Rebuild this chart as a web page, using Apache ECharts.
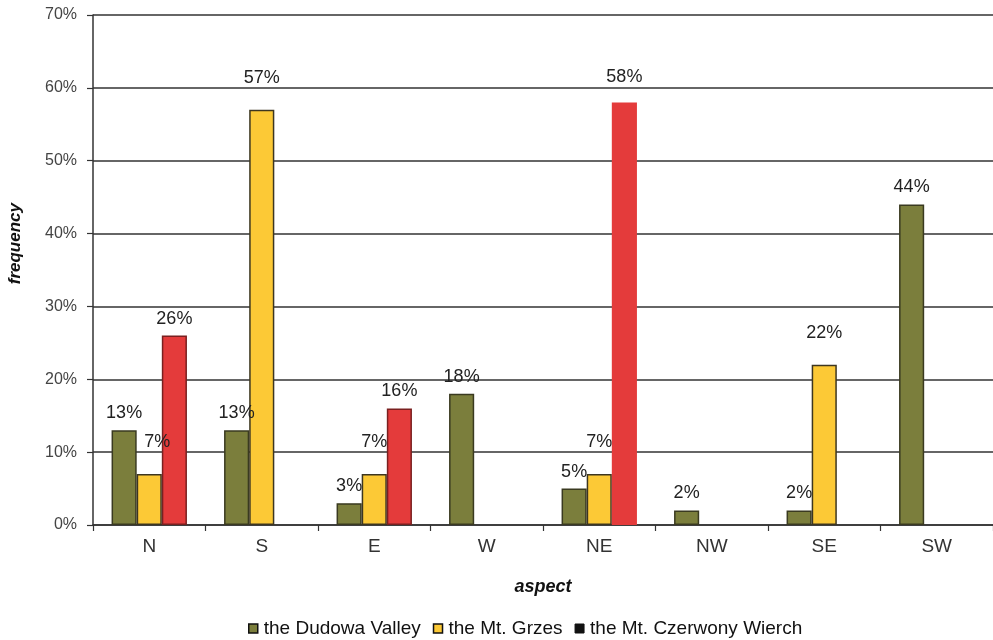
<!DOCTYPE html>
<html>
<head>
<meta charset="utf-8">
<script src="https://cdn.jsdelivr.net/npm/echarts@6/dist/echarts.min.js"></script>
<style>
  html, body { margin: 0; padding: 0; background: #fff; }
  #chart { width: 993px; height: 640px; }
</style>
</head>
<body>
<div id="chart"></div>
<script>
// Aspect categories and frequency (%) per site
const aspects = ['N', 'S', 'E', 'W', 'NE', 'NW', 'SE', 'SW'];
const dudowaValley = [13, 13, 3, 18, 5, 2, 2, 44];
const mtGrzes = [7, 57, 7, null, 7, null, 22, null];
const mtCzerwonyWierch = [26, null, 16, null, 58, null, null, null];
const seriesNames = ['the Dudowa Valley', 'the Mt. Grzes', 'the Mt. Czerwony Wierch'];
const yTicks = [0, 10, 20, 30, 40, 50, 60, 70];

const FONT = 'Liberation Sans, Arial, sans-serif';
const GREEN = '#7b7e3c', YELLOW = '#fcc936', RED = '#e43b3b';

function labelCfg(distance) {
  return {
    show: true,
    position: 'top',
    distance: distance,
    formatter: p => p.value == null ? '' : p.value + '%',
    fontFamily: FONT,
    fontSize: 18,
    color: '#222'
  };
}

// the tall NE bar of the third site is drawn without an outline
const redData = mtCzerwonyWierch.map((v, i) =>
  aspects[i] === 'NE'
    ? { value: v, itemStyle: { borderWidth: 0 }, label: { distance: 16 } }
    : v
);

// the N label of the second site sits a little to the right
const yellowData = mtGrzes.map((v, i) =>
  aspects[i] === 'N' ? { value: v, label: { offset: [8, 0] } } : v
);

const chart = echarts.init(document.getElementById('chart'), null, { renderer: 'canvas' });

chart.setOption({
  animation: false,
  backgroundColor: '#fff',
  grid: { left: 93, right: 0, top: 15, bottom: 115, containLabel: false },
  legend: {
    left: 243,
    top: 614,
    itemWidth: 9,
    itemHeight: 9,
    itemGap: 12,
    icon: 'rect',
    textStyle: { fontFamily: FONT, fontSize: 19, color: '#111', padding: [0, 0, 0, 1] },
    data: [
      { name: seriesNames[0], itemStyle: { color: GREEN, borderColor: '#111', borderWidth: 1.5 } },
      { name: seriesNames[1], itemStyle: { color: YELLOW, borderColor: '#111', borderWidth: 1.5 } },
      { name: seriesNames[2], itemStyle: { color: '#111', borderColor: '#111', borderWidth: 1 } }
    ]
  },
  xAxis: {
    type: 'category',
    data: aspects,
    name: 'aspect',
    nameLocation: 'middle',
    nameGap: 53,
    nameTextStyle: { fontFamily: FONT, fontSize: 18, fontWeight: 'bold', fontStyle: 'italic', color: '#111' },
    axisLine: { show: true, lineStyle: { color: '#333', width: 1.5 } },
    axisTick: { show: true, length: 6, lineStyle: { color: '#333', width: 1.2 } },
    axisLabel: { fontFamily: FONT, fontSize: 19, color: '#333', margin: 12 },
    splitLine: { show: false }
  },
  yAxis: {
    type: 'value',
    min: yTicks[0],
    max: yTicks[yTicks.length - 1],
    interval: 10,
    axisLine: { show: true, lineStyle: { color: '#333', width: 1.5 } },
    axisTick: { show: true, length: 6, lineStyle: { color: '#333', width: 1.2 } },
    axisLabel: { fontFamily: FONT, fontSize: 16, color: '#444', margin: 16, formatter: '{value}%' },
    splitLine: { show: true, lineStyle: { color: '#333', width: 1.5 } }
  },
  graphic: [{
    type: 'text',
    left: 7,
    top: 203,
    rotation: Math.PI / 2,
    style: {
      text: 'frequency',
      fontFamily: FONT,
      fontSize: 17,
      fontWeight: 'bold',
      fontStyle: 'italic',
      fill: '#111'
    }
  }],
  series: [
    {
      name: seriesNames[0],
      type: 'bar',
      data: dudowaValley,
      barGap: '0%',
      barCategoryGap: '33%',
      itemStyle: { color: GREEN, borderColor: '#3a3a20', borderWidth: 1.5 },
      label: labelCfg(8)
    },
    {
      name: seriesNames[1],
      type: 'bar',
      data: yellowData,
      barGap: '0%',
      barCategoryGap: '33%',
      itemStyle: { color: YELLOW, borderColor: '#3d3620', borderWidth: 1.5 },
      label: labelCfg(23)
    },
    {
      name: seriesNames[2],
      type: 'bar',
      data: redData,
      barGap: '0%',
      barCategoryGap: '33%',
      itemStyle: { color: RED, borderColor: '#7a2020', borderWidth: 1.5 },
      label: labelCfg(8)
    }
  ]
});
</script>
</body>
</html>
